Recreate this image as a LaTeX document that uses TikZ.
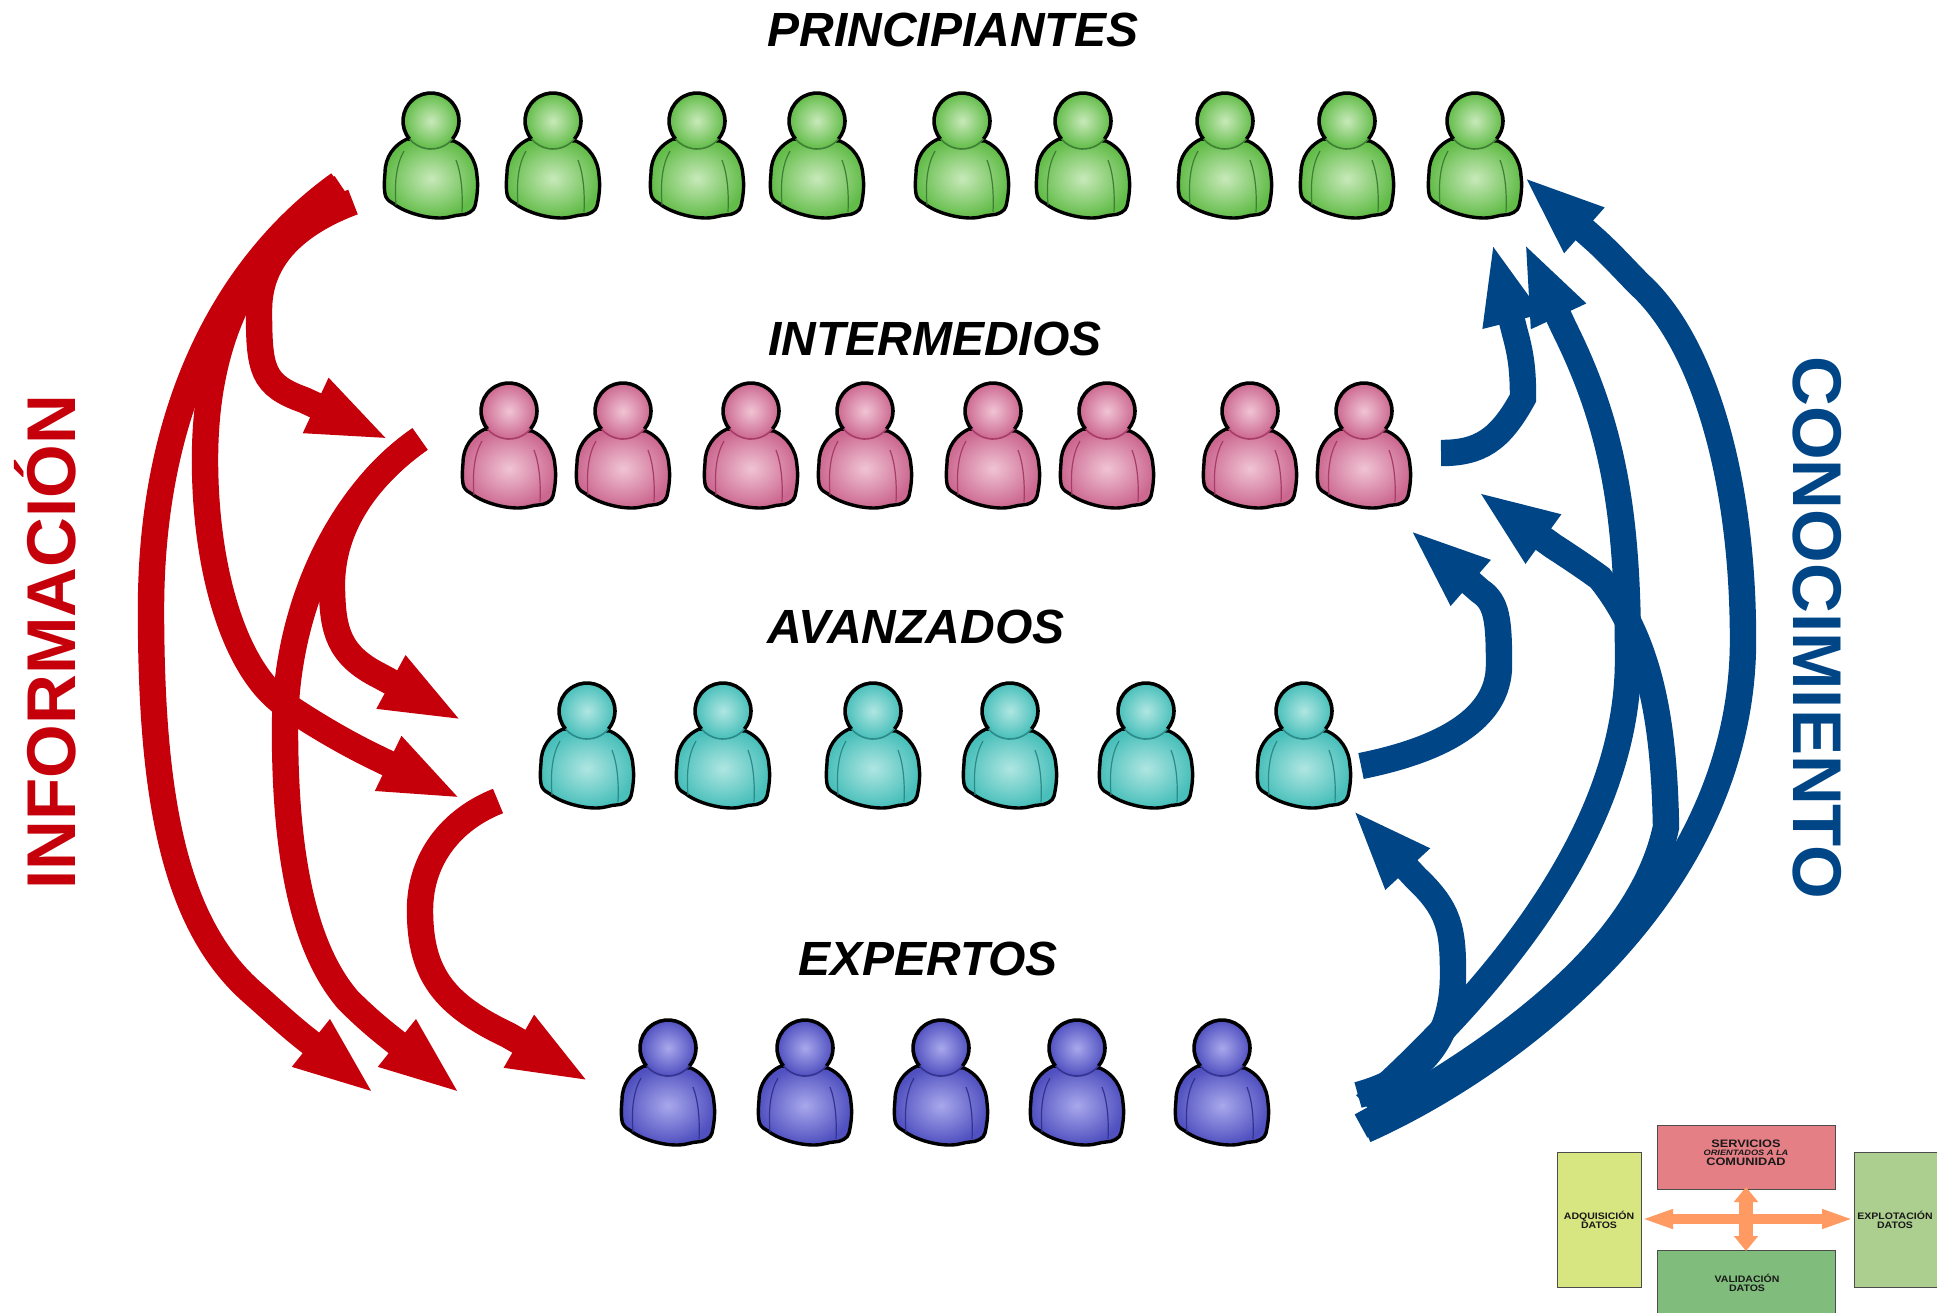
\documentclass[tikz,border=0pt]{standalone}
\usepackage{fontspec}
\setmainfont{Liberation Sans}
\usetikzlibrary{arrows.meta}
\definecolor{redA}{HTML}{C5000B}
\definecolor{blueA}{HTML}{004586}
\definecolor{orA}{HTML}{FF9A63}
\definecolor{RosyInset}{HTML}{E47F86}
\definecolor{YelInset}{HTML}{D7E681}
\definecolor{SageInset}{HTML}{ACCE8E}
\definecolor{GrnInset}{HTML}{80BD7D}
\definecolor{grO}{HTML}{62BC48}\definecolor{grI}{HTML}{C8E9BA}\definecolor{grF}{HTML}{3F7F35}
\definecolor{piO}{HTML}{CC6890}\definecolor{piI}{HTML}{F0C4D4}\definecolor{piF}{HTML}{A83C68}
\definecolor{teO}{HTML}{48BFBA}\definecolor{teI}{HTML}{B0E6E2}\definecolor{teF}{HTML}{2C8A88}
\definecolor{blO}{HTML}{5050C0}\definecolor{blI}{HTML}{A8A8EC}\definecolor{blF}{HTML}{33338F}
\tikzset{
  pics/person/.style={code={
    \path[shade,inner color=#1I,outer color=#1O,draw=black,line width=1.7pt,line join=round]
      (-24,18) .. controls (-37,24) and (-46,36) .. (-46,52)
      .. controls (-47,62) and (-47,72) .. (-45,76)
      .. controls (-43,80) and (-40,81) .. (-37,83)
      .. controls (-30,89) and (-10,97) .. (9,97)
      .. controls (18,97) and (24,94) .. (29,94)
      .. controls (36,94) and (43,90) .. (44,85)
      .. controls (47,72) and (47,62) .. (46,55)
      .. controls (45,38) and (36,26) .. (23,20) -- cycle;
    \draw[#1F,line width=.6pt] (-27,30) .. controls (-34,42) and (-37,60) .. (-35,84);
    \draw[#1F,line width=.6pt] (25,39) .. controls (30,52) and (32,70) .. (31,91);
    \shade[inner color=#1I,outer color=#1O] (0,0) circle[radius=28];
    \draw[black,line width=1.8pt] (0,0) ++(140:28) arc[start angle=140,end angle=400,radius=28];
    \draw[#1F,line width=.8pt] (0,0) ++(40:28) arc[start angle=40,end angle=140,radius=28];
  }},
  redarrow/.style={draw=redA,line width=13.2pt,-{Triangle[length=41pt,width=27pt]}},
  bluearrow/.style={draw=blueA,line width=13.2pt,-{Triangle[length=41pt,width=27pt]}},
  heading/.style={font=\bfseries\itshape\fontsize{24}{26}\selectfont,text=black,inner sep=0pt},
  sidelabel/.style={font=\bfseries\fontsize{34.5}{36}\selectfont,inner sep=0pt},
  insetbox/.style={draw=black!70,line width=.6pt,inner sep=0pt},
  insettext/.style={font=\bfseries\fontsize{4.7}{4.6}\selectfont,align=center,xscale=1.12,text=black!90,inner sep=0pt},
  bigtext/.style={font=\bfseries\fontsize{5.4}{5}\selectfont,xscale=1.18,text=black!90,inner sep=0pt},
  crossarrow/.style={draw=orA},
}
\begin{document}
\begin{tikzpicture}[x=0.5pt,y=-0.5pt]
\useasboundingbox (0,0) rectangle (1937,1312);
\clip (0,0) rectangle (1937,1312);
\fill[white] (0,0) rectangle (1937,1312);

\node[heading] (hp) at (953,30) {PRINCIPIANTES};
\node[heading] (hi) at (935,339) {INTERMEDIOS};
\node[heading] (ha) at (916,627) {AVANZADOS};
\node[heading] (he) at (928,959) {EXPERTOS};
\node[sidelabel,text=redA,rotate=90] (inf) at (45,642) {INFORMACIÓN};
\node[sidelabel,text=blueA,rotate=-90] (con) at (1817,628) {CONOCIMIENTO};

\foreach \i/\x in {1/431,2/553,3/697,4/817,5/962,6/1083,7/1225,8/1347,9/1475}
  \pic (g\i) at (\x,121) {person=gr};
\foreach \i/\x in {1/509,2/623,3/751,4/865,5/993,6/1107,7/1250,8/1364}
  \pic (p\i) at (\x,411) {person=pi};
\foreach \i/\x in {1/587,2/723,3/873,4/1010,5/1146,6/1304}
  \pic (t\i) at (\x,711) {person=te};
\foreach \i/\x in {1/668,2/805,3/941,4/1077,5/1222}
  \pic (b\i) at (\x,1048) {person=bl};

% ends of the red arrows
\coordinate (ra) at (353,202);
\coordinate (rb) at (342,187);
\coordinate (rc) at (339,184);
\coordinate (rd) at (420,439);
\coordinate (rf) at (498,801);
\coordinate (ta) at (390,440);
\coordinate (tb) at (462,799);
\coordinate (tc) at (375,1094);
\coordinate (td) at (463,721);
\coordinate (te) at (461,1094);
\coordinate (tf) at (590,1082);

\draw[redarrow] (ra) .. controls (300,222) and (259,255) .. (259,310)
   .. controls (259,370) and (262,385) .. (304,400) -- (ta);
\draw[redarrow] (rb) .. controls (270,235) and (205,310) .. (205,460)
   .. controls (205,570) and (235,675) .. (290,708)
   .. controls (320,728) and (350,745) .. (377,758) -- (tb);
\draw[redarrow] (rc) .. controls (240,255) and (151,390) .. (151,610)
   .. controls (151,800) and (175,925) .. (253,993)
   .. controls (270,1008) and (285,1022) .. (301,1035) -- (tc);
\draw[redarrow] (rd) .. controls (365,478) and (330,530) .. (332,590)
   .. controls (333,630) and (338,655) .. (380,676) -- (td);
\draw[redarrow] (rd) .. controls (345,490) and (285,600) .. (285,730)
   .. controls (285,860) and (305,950) .. (348,1000)
   .. controls (360,1012) and (372,1023) .. (387,1035) -- (te);
\draw[redarrow] (rf) .. controls (450,820) and (420,860) .. (420,910)
   .. controls (420,975) and (445,1005) .. (508,1035) -- (tf);

% ends of the blue arrows
\coordinate (bg) at (1441,453);
\coordinate (bh) at (1361,766);
\coordinate (bj) at (1358,1095);
\coordinate (bk) at (1365,1105);
\coordinate (bl) at (1361,1126);
\coordinate (bm) at (1365,1130);
\coordinate (ug) at (1492,242);
\coordinate (uh) at (1409,529);
\coordinate (uj) at (1352,809);
\coordinate (uk) at (1524,242);
\coordinate (ul) at (1477,491);
\coordinate (um) at (1523,176);

\draw[bluearrow] (bg) .. controls (1480,453) and (1500,440) .. (1523,398)
   .. controls (1523,370) and (1521,355) .. (1515,333) -- (ug);
\draw[bluearrow] (bh) .. controls (1440,750) and (1499,720) .. (1499,665)
   .. controls (1499,620) and (1497,602) .. (1480,591) -- (uh);
\draw[bluearrow] (bj) .. controls (1420,1078) and (1453,1040) .. (1453,975)
   .. controls (1453,930) and (1450,910) .. (1416,878) -- (uj);
\draw[bluearrow] (bk) .. controls (1510,975) and (1628,820) .. (1628,660)
   .. controls (1628,520) and (1615,430) .. (1564,328) -- (uk);
\draw[bluearrow] (bl) .. controls (1500,1050) and (1640,950) .. (1666,827)
   .. controls (1664,720) and (1650,640) .. (1600,578)
   .. controls (1585,567) and (1570,557) .. (1553,546) -- (ul);
\draw[bluearrow] (bm) .. controls (1500,1070) and (1743,900) .. (1743,640)
   .. controls (1743,470) and (1700,340) .. (1640,285)
   .. controls (1625,270) and (1610,253) .. (1593,238) -- (um);

% inset
\node[insetbox,fill=RosyInset,minimum width=89pt,minimum height=32pt,anchor=north west] (serv) at (1657,1125) {};
\node[insetbox,fill=YelInset,minimum width=42pt,minimum height=67.5pt,anchor=north west] (adq) at (1557,1152) {};
\node[insetbox,fill=SageInset,minimum width=60pt,minimum height=67.5pt,anchor=north west] (expl) at (1854,1152) {};
\node[insetbox,fill=GrnInset,minimum width=89pt,minimum height=50pt,anchor=north west] (val) at (1657,1250) {};
\node[bigtext] (s1) at (1746,1144) {SERVICIOS};
\node[font=\bfseries\itshape\fontsize{3.9}{4}\selectfont,xscale=1.18,inner sep=0pt,text=black!90] (s2) at (1746,1153) {ORIENTADOS A LA};
\node[bigtext] (s3) at (1746,1162) {COMUNIDAD};
\node[insettext] (ta1) at (1599,1219.5) {ADQUISICIÓN\\DATOS};
\node[insettext] (te1) at (1895,1219.5) {EXPLOTACIÓN\\DATOS};
\node[insettext] (tv1) at (1747,1282.5) {VALIDACIÓN\\DATOS};
\coordinate (hl) at (1641,1219);
\coordinate (hr) at (1854,1219);
\coordinate (vt) at (1746,1187);
\coordinate (vb) at (1746,1251);
\draw[crossarrow,line width=5pt,{Triangle[length=16pt,width=8.7pt]}-{Triangle[length=16pt,width=8.7pt]}] (hl) -- (hr);
\draw[crossarrow,line width=6.7pt,{Triangle[length=7.5pt,width=11.7pt]}-{Triangle[length=7.5pt,width=11.7pt]}] (vt) -- (vb);
\end{tikzpicture}
\end{document}
